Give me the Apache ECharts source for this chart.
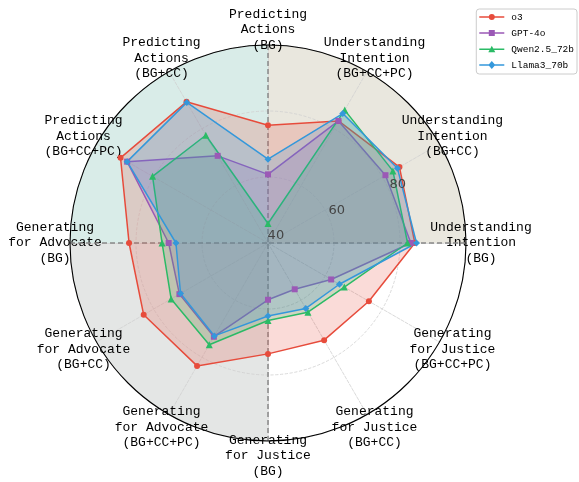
<!DOCTYPE html>
<html>
<head>
<meta charset="utf-8">
<script src="https://cdn.jsdelivr.net/npm/echarts@6/dist/echarts.min.js"></script>
<style>
    html, body { margin: 0; padding: 0; background: #fff; }
    #chart { width: 579px; height: 482px; }
</style>
</head>
<body>
<div id="chart"></div>
<script>
// 维度（从正上方开始，逆时针排列）
var dimensions = [
    'Predicting\nActions\n(BG)',
    'Predicting\nActions\n(BG+CC)',
    'Predicting\nActions\n(BG+CC+PC)',
    'Generating\nfor Advocate\n(BG)',
    'Generating\nfor Advocate\n(BG+CC)',
    'Generating\nfor Advocate\n(BG+CC+PC)',
    'Generating\nfor Justice\n(BG)',
    'Generating\nfor Justice\n(BG+CC)',
    'Generating\nfor Justice\n(BG+CC+PC)',
    'Understanding\nIntention\n(BG)',
    'Understanding\nIntention\n(BG+CC)',
    'Understanding\nIntention\n(BG+CC+PC)'
];
var modelNames = ['o3', 'GPT-4o', 'Qwen2.5_72b', 'Llama3_70b'];
var o3Values = [75.7, 89.4, 91.6, 82.1, 83.5, 83.0, 73.6, 74.0, 75.3, 84.5, 86.0, 82.7];
var gpt4oValues = [60.8, 70.5, 89.3, 70.1, 71.0, 72.8, 57.2, 56.2, 62.1, 83.3, 81.1, 82.7];
var qwenValues = [45.9, 77.7, 80.4, 72.1, 73.9, 75.6, 63.5, 64.2, 66.7, 82.3, 83.7, 86.5];
var llamaValues = [65.4, 89.2, 89.3, 67.9, 70.6, 72.5, 62.1, 62.9, 65.0, 85.0, 85.3, 85.3];
var radialTicks = [40, 60, 80, 100];
// 背景四象限：右上、右下、左下、左上
var quadrantShares = [1, 1, 1, 1];

var modelColors = ['#e74c3c', '#9b59b6', '#2bbb66', '#3498db'];
var modelSymbols = ['circle', 'rect', 'triangle', 'diamond'];
var modelSymbolSizes = [6, 6, 7, 7];
// 图例图标：线 + 标记
var legendIcons = [
    'path://M0,3.75L25,3.75L25,5.25L0,5.25Z M9.5,4.5A3,3 0 1,1 15.5,4.5A3,3 0 1,1 9.5,4.5Z',
    'path://M0,3.75L25,3.75L25,5.25L0,5.25Z M9.5,1.5L15.5,1.5L15.5,7.5L9.5,7.5Z',
    'path://M0,3.75L25,3.75L25,5.25L0,5.25Z M12.5,1L16,7.5L9,7.5Z',
    'path://M0,3.75L25,3.75L25,5.25L0,5.25Z M12.5,0.5L16,4.5L12.5,8.5L9,4.5Z'
];
var quadrantColors = ['#e9e7de', '#ffffff', '#e4e6e5', '#d9ece8'];

var center = [268, 243];
var radius = 198;

var chart = echarts.init(document.getElementById('chart'));

var valueSets = [o3Values, gpt4oValues, qwenValues, llamaValues];
var radarSeries = modelNames.map(function (name, i) {
    return {
        name: name,
        type: 'radar',
        radarIndex: 0,
        z: 3,
        symbol: modelSymbols[i],
        symbolSize: modelSymbolSizes[i],
        itemStyle: { color: modelColors[i] },
        lineStyle: { color: modelColors[i], width: 1.5 },
        areaStyle: { color: modelColors[i], opacity: 0.2 },
        data: [{ value: valueSets[i], name: name }]
    };
});

var option = {
    animation: false,
    backgroundColor: '#fff',
    legend: {
        orient: 'vertical',
        right: 2,
        top: 9,
        padding: [3, 3, 4, 3],
        itemWidth: 25,
        itemHeight: 9,
        itemGap: 6,
        borderColor: '#cccccc',
        borderWidth: 1,
        borderRadius: 3,
        textStyle: { fontFamily: 'Liberation Mono', fontSize: 9.5, color: '#000', padding: [0, 0, 0, 2] },
        data: modelNames.map(function (name, i) {
            return { name: name, icon: legendIcons[i], itemStyle: { color: modelColors[i] } };
        })
    },
    radar: {
        center: center,
        radius: radius,
        startAngle: 90,
        shape: 'circle',
        z: 1,
        nameGap: 15,
        axisName: {
            color: '#000',
            fontFamily: 'Liberation Mono',
            fontSize: 13,
            lineHeight: 15.5,
            align: 'center',
            verticalAlign: 'middle'
        },
        indicator: dimensions.map(function (d) {
            return { name: d, min: 40, max: 100 };
        }),
        splitLine: { show: false },
        splitArea: { show: false },
        axisLine: { lineStyle: { color: '#d0d0d0', type: 'dashed', width: 0.8 } }
    },
    polar: [
        { center: center, radius: radius },
        { center: center, radius: radius }
    ],
    angleAxis: [
        {
            polarIndex: 0,
            type: 'value',
            min: 0,
            max: 360,
            interval: 90,
            startAngle: 90,
            z: 2,
            axisLine: { show: true, lineStyle: { color: '#000', width: 1.1 } },
            axisTick: { show: false },
            axisLabel: { show: false },
            splitLine: { show: true, lineStyle: { color: '#888', type: [5, 3], width: 1.5 } }
        },
        {
            polarIndex: 1,
            type: 'value',
            min: 0,
            max: 360,
            startAngle: 22.5,
            show: false
        }
    ],
    radiusAxis: [
        {
            polarIndex: 0,
            min: radialTicks[0],
            max: radialTicks[radialTicks.length - 1],
            interval: 20,
            z: 1,
            axisLine: { show: false },
            axisTick: { show: false },
            axisLabel: { show: false },
            splitLine: { show: true, lineStyle: { color: '#d0d0d0', type: 'dashed', width: 0.8 } }
        },
        {
            polarIndex: 1,
            min: radialTicks[0],
            max: radialTicks[radialTicks.length - 1],
            interval: 20,
            z: 6,
            axisLine: { show: false },
            axisTick: { show: false },
            splitLine: { show: false },
            axisLabel: {
                show: true,
                margin: 1,
                fontFamily: 'DejaVu Sans',
                fontSize: 13,
                color: '#444',
                align: 'left',
                verticalAlign: 'bottom',
                formatter: function (v) { return v === 100 ? '' : String(v); }
            }
        }
    ],
    series: [{
        type: 'pie',
        silent: true,
        z: 0,
        center: center,
        radius: [0, radius],
        startAngle: 90,
        clockwise: true,
        label: { show: false },
        labelLine: { show: false },
        itemStyle: { borderWidth: 0 },
        data: quadrantShares.map(function (v, i) {
            return { value: v, name: 'q' + i, itemStyle: { color: quadrantColors[i] } };
        })
    }].concat(radarSeries)
};

chart.setOption(option);
</script>
</body>
</html>
